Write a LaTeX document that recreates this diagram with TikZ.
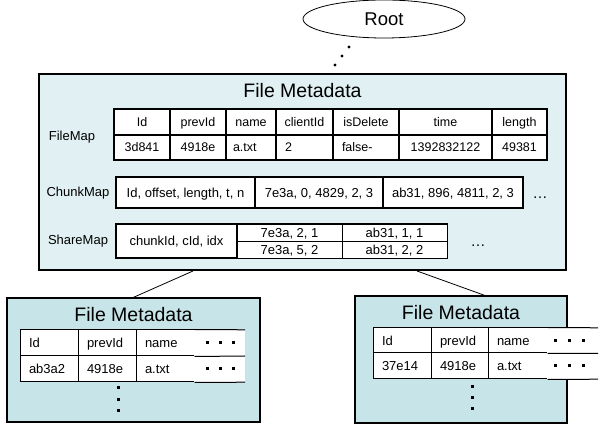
\documentclass[tikz,border=0pt]{standalone}
\usepackage{fontspec}
\setmainfont{Liberation Sans}
\usetikzlibrary{shapes.geometric}
\definecolor{mainfill}{HTML}{E0F0F3}
\definecolor{subfill}{HTML}{C7E4E9}

% table cell: [style] name, x1, y1, x2, y2, text (centred)
\newcommand\tcell[7][]{%
  \node[cell,minimum width={(#5-#3)*1pt},minimum height={(#6-#4)*1pt},#1]
    (#2) at ({(#3+#5)/2},{(#4+#6)/2}) {#7};}
% table cell with left-aligned text
\newcommand\lcell[7][]{%
  \pgfmathsetmacro\cellw{#5-#3-18}%
  \node[cell,minimum width={(#5-#3)*1pt},minimum height={(#6-#4)*1pt},
        text width=\cellw pt,align=left,#1]
    (#2) at ({(#3+#5)/2},{(#4+#6)/2}) {#7};}

\begin{document}
\begin{tikzpicture}[x=1pt,y=-1pt,
  panel/.style={draw,line width=1.8pt,fill=mainfill,inner sep=0pt},
  subpanel/.style={draw,line width=1.3pt,fill=subfill,inner sep=0pt},
  cell/.style={draw,line width=1.3pt,fill=white,inner sep=0pt,
               font=\fontsize{12.5}{14}\selectfont,text height=8.9pt,text depth=0pt},
  bigcell/.style={font=\fontsize{13}{15}\selectfont,text height=9.3pt},
  thin/.style={line width=0.9pt},
  subcell/.style={line width=1pt,font=\fontsize{13}{15}\selectfont,text height=9.3pt},
  lbl/.style={font=\fontsize{13}{15}\selectfont,inner sep=0pt,text height=9.3pt,text depth=0pt},
  title/.style={font=\fontsize{19.5}{22}\selectfont,inner sep=0pt,text height=14pt,text depth=0pt},
  more/.style={font=\fontsize{15}{17}\selectfont,inner sep=0pt,anchor=base},
  sq/.style={fill=black,inner sep=0pt,minimum size=3pt},
  dot/.style={circle,fill=black,inner sep=0pt,minimum size=3.3pt},
  link/.style={line width=0.8pt}]
\useasboundingbox (0,0) rectangle (603,427);

% root node
\node[draw,ellipse,line width=0.8pt,minimum width=162pt,minimum height=38pt,
      inner sep=0pt,font=\fontsize{18.5}{21}\selectfont] (root) at (384,19) {Root};
\node[dot] (r1) at (349,47) {};
\node[dot] (r2) at (342,56) {};
\node[dot] (r3) at (335,65) {};

% main metadata panel
\node[panel,minimum width=527pt,minimum height=196pt] (main) at (302.5,172) {};
\node[title] (mtitle) at (302.5,91) {File Metadata};

% FileMap
\node[lbl] (fmlabel) at (72,136) {FileMap};
\tcell{h1}{114}{109}{170}{135}{Id}
\tcell{h2}{170}{109}{226}{135}{prevId}
\tcell{h3}{226}{109}{276}{135}{name}
\tcell{h4}{276}{109}{333}{135}{clientId}
\tcell{h5}{333}{109}{399}{135}{isDelete}
\tcell{h6}{399}{109}{492}{135}{time}
\tcell{h7}{492}{109}{547}{135}{length}
\tcell{d1}{114}{135}{170}{160}{3d841}
\tcell{d2}{170}{135}{226}{160}{4918e}
\lcell[text width=36pt]{d3}{226}{135}{276}{160}{a.txt}
\lcell{d4}{276}{135}{333}{160}{2}
\lcell{d5}{333}{135}{399}{160}{false-}
\tcell{d6}{399}{135}{492}{160}{1392832122}
\tcell{d7}{492}{135}{547}{160}{49381}

% ChunkMap
\node[lbl] (cmlabel) at (78,192) {ChunkMap};
\tcell[bigcell]{c1}{116}{177}{255}{208}{Id, offset, length, t, n}
\tcell[bigcell]{c2}{255}{177}{383}{208}{7e3a, 0, 4829, 2, 3}
\tcell[bigcell]{c3}{383}{177}{523}{208}{ab31, 896, 4811, 2, 3}
\node[more] (cmore) at (540,199) {…};

% ShareMap
\node[lbl] (smlabel) at (78,240) {ShareMap};
\tcell[bigcell]{s1}{116}{224}{237}{258}{chunkId, cId, idx}
\tcell[bigcell,thin]{s2}{237}{224}{342}{241}{7e3a, 2, 1}
\tcell[bigcell,thin]{s3}{237}{241}{342}{258}{7e3a, 5, 2}
\tcell[bigcell,thin]{s4}{342}{224}{447}{241}{ab31, 1, 1}
\tcell[bigcell,thin]{s5}{342}{241}{447}{258}{ab31, 2, 2}
\draw[line width=1.3pt] (s2.north west) rectangle (s5.south east);
\node[more] (smore) at (478,247) {…};

% left child panel
\node[subpanel,minimum width=253pt,minimum height=124pt] (lchild) at (133.5,360) {};
\node[title] (ltitle) at (133.5,315) {File Metadata};
\lcell[subcell]{la1}{20}{330}{78}{356}{Id}
\lcell[subcell]{la2}{78}{330}{136}{356}{prevId}
\lcell[subcell]{la3}{136}{330}{194}{356}{name}
\lcell[subcell]{lb1}{20}{356}{78}{382}{ab3a2}
\lcell[subcell]{lb2}{78}{356}{136}{382}{4918e}
\lcell[subcell]{lb3}{136}{356}{194}{382}{a.txt}
\node[fill=white,inner sep=0pt,minimum width=51pt,minimum height=52pt] (lrest) at (219.5,356) {};
\draw[line width=1pt] (la3.north east) -- (lrest.north east)
                      (la3.south east) -- (lrest.east)
                      (lb3.south east) -- (lrest.south east);
\foreach \i/\x in {1/207,2/220,3/233}{
  \node[sq] (lh\i) at (\x,343) {};
  \node[sq] (ld\i) at (\x,369) {};}
\node[sq] (lv1) at (118,388) {};
\node[sq] (lv2) at (118,400) {};
\node[sq] (lv3) at (118,411) {};

% right child panel
\node[subpanel,minimum width=212pt,minimum height=127pt] (rchild) at (461,359.5) {};
\node[title] (rtitle) at (461,312.5) {File Metadata};
\lcell[subcell]{ra1}{373}{328}{431}{353}{Id}
\lcell[subcell]{ra2}{431}{328}{488}{353}{prevId}
\lcell[subcell]{ra3}{488}{328}{547}{353}{name}
\lcell[subcell]{rb1}{373}{353}{431}{379}{37e14}
\lcell[subcell]{rb2}{431}{353}{488}{379}{4918e}
\lcell[subcell]{rb3}{488}{353}{547}{379}{a.txt}
\node[fill=white,inner sep=0pt,minimum width=51pt,minimum height=51pt] (rrest) at (572.5,353.5) {};
\draw[line width=1pt] (ra3.north east) -- (rrest.north east)
                      (ra3.south east) -- (rrest.east)
                      (rb3.south east) -- (rrest.south east);
\foreach \i/\x in {1/555,2/569,3/583}{
  \node[sq] (rh\i) at (\x,341) {};
  \node[sq] (rd\i) at (\x,366) {};}
\node[sq] (rv1) at (472,387) {};
\node[sq] (rv2) at (472,398) {};
\node[sq] (rv3) at (472,409) {};

% links from the main panel to the children
\coordinate (ml) at (193,271);
\coordinate (mr) at (417,271);
\coordinate (rc) at (485,295.5);
\draw[link] (ml) -- (lchild.north);
\draw[link] (mr) -- (rc);
\end{tikzpicture}
\end{document}
